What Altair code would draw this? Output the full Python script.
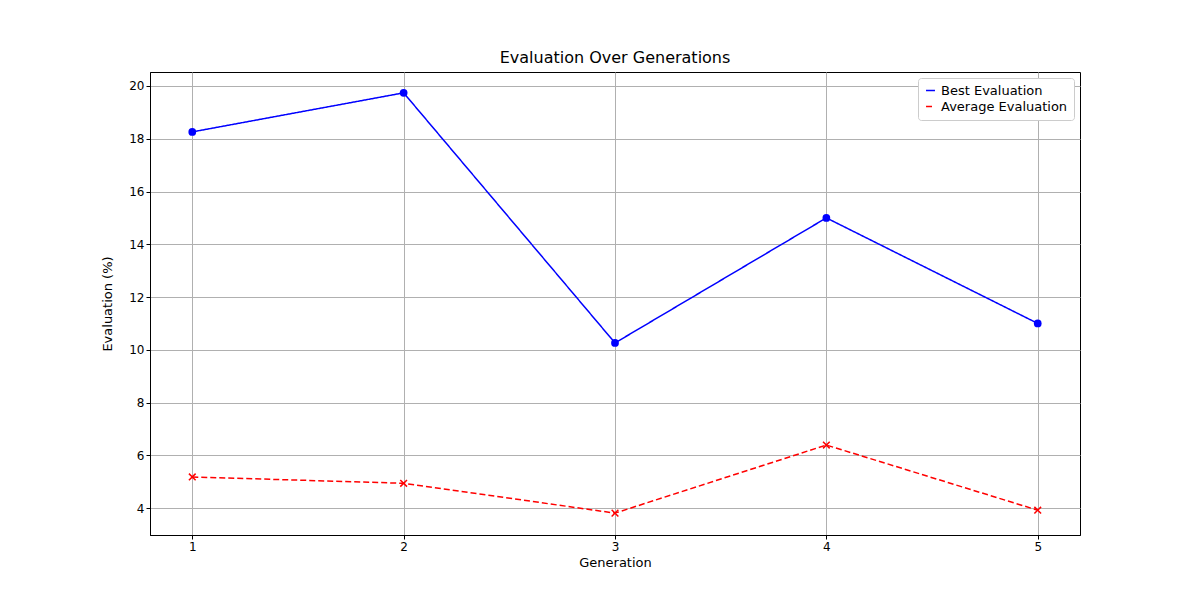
import altair as alt
import pandas as pd

generations = [1, 2, 3, 4, 5]
best_eval = [18.26, 19.74, 10.26, 15.0, 11.0]
avg_eval = [5.18, 4.94, 3.81, 6.39, 3.92]

rows = []
for g, b, a in zip(generations, best_eval, avg_eval):
    rows.append({"Generation": g, "Evaluation": b, "Series": "Best Evaluation"})
    rows.append({"Generation": g, "Evaluation": a, "Series": "Average Evaluation"})
df = pd.DataFrame(rows)

order = ["Best Evaluation", "Average Evaluation"]
color = alt.Color("Series:N", scale=alt.Scale(domain=order, range=["#0000ff", "#ff0000"]),
                  legend=alt.Legend(title=None, orient="top-right", symbolStrokeWidth=1.5,
                                    labelFontSize=13, labelFont="DejaVu Sans", symbolSize=80,
                                    fillColor="white", strokeColor="#cccccc", padding=6,
                                    cornerRadius=3, offset=6, labelColor="black"))
dash = alt.StrokeDash("Series:N", scale=alt.Scale(domain=order, range=[[1, 0], [6, 3]]), legend=None)

x = alt.X("Generation:Q", scale=alt.Scale(domain=[0.8, 5.2], nice=False, zero=False),
          axis=alt.Axis(values=generations, format="d", title="Generation", titlePadding=4))
y = alt.Y("Evaluation:Q", scale=alt.Scale(domain=[2.98, 20.53], nice=False, zero=False),
          axis=alt.Axis(values=[4, 6, 8, 10, 12, 14, 16, 18, 20], title="Evaluation (%)", titlePadding=14))

lines = alt.Chart(df).mark_line(strokeWidth=1.5).encode(x=x, y=y, color=color, strokeDash=dash)
pts_best = alt.Chart(df[df.Series == "Best Evaluation"]).mark_point(filled=True, size=60, shape="circle", color="#0000ff", opacity=1).encode(x=x, y=y)
pts_avg = alt.Chart(df[df.Series == "Average Evaluation"]).mark_point(size=45, color="#ff0000", strokeWidth=1.5, opacity=1).encode(
    x=x, y=y, shape=alt.value("M-1,-1L1,1M-1,1L1,-1"))

chart = alt.layer(lines, pts_best, pts_avg).properties(
    width=930, height=463,
    title=alt.Title("Evaluation Over Generations", fontSize=16, fontWeight="normal", font="DejaVu Sans", offset=6),
    autosize=alt.AutoSizeParams(type="none"),
    padding={"left": 142, "top": 64, "right": 20, "bottom": 60},
).configure_axis(
    grid=True, gridColor="#b0b0b0", gridOpacity=1, gridWidth=1,
    domainColor="black", tickColor="black", tickSize=4,
    labelFont="DejaVu Sans", labelFontSize=12, labelColor="black",
    titleFont="DejaVu Sans", titleFontSize=13, titleFontWeight="normal", titleColor="black",
).configure_view(stroke="black", strokeWidth=1)

chart.save("out.html", embed_options={"renderer": "svg", "actions": False})
